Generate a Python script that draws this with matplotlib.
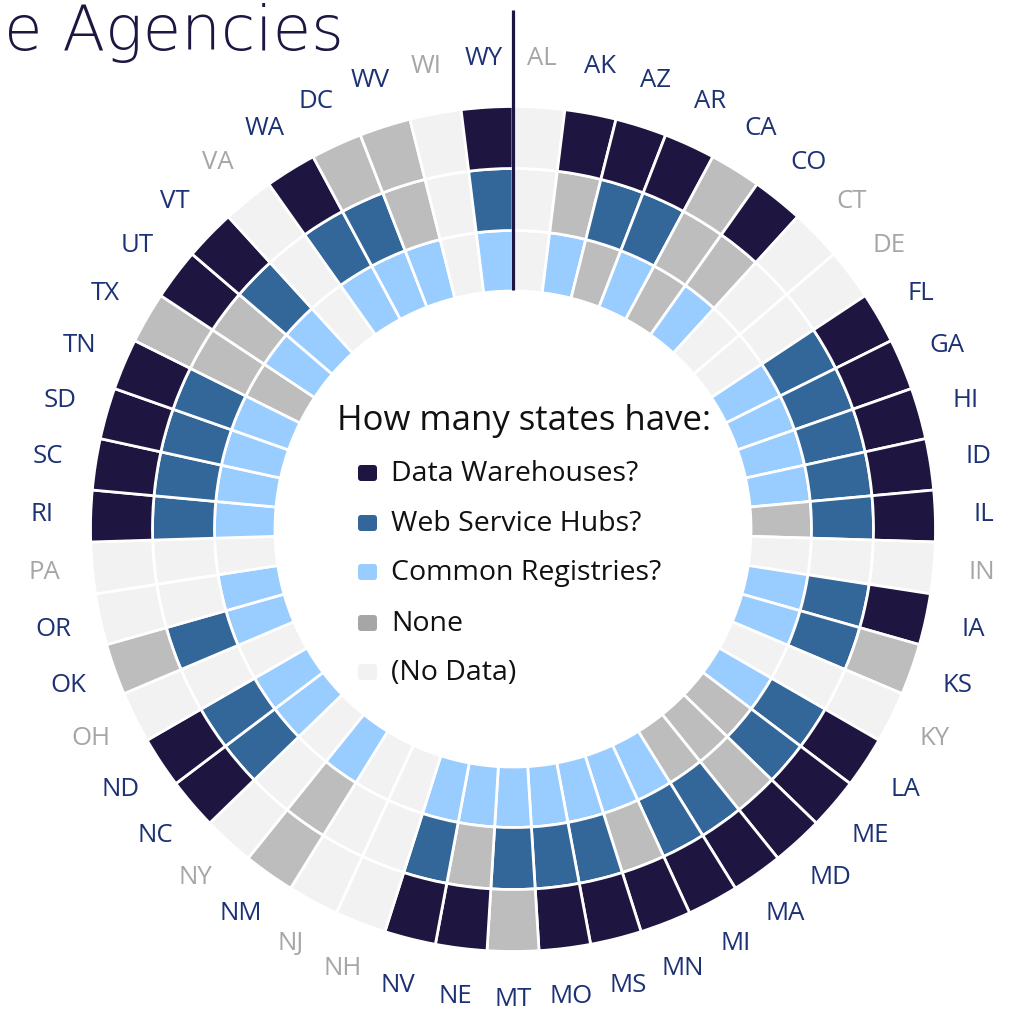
import numpy as np
import matplotlib
matplotlib.use("Agg")
import matplotlib.pyplot as plt
from matplotlib.patches import FancyBboxPatch

plt.rcParams['font.family'] = ['Open Sans', 'DejaVu Sans']

# states, clockwise from the top
states = ["AL", "AK", "AZ", "AR", "CA", "CO", "CT", "DE", "FL", "GA", "HI", "ID", "IL",
          "IN", "IA", "KS", "KY", "LA", "ME", "MD", "MA", "MI", "MN", "MS", "MO", "MT",
          "NE", "NV", "NH", "NJ", "NM", "NY", "NC", "ND", "OH", "OK", "OR", "PA", "RI",
          "SC", "SD", "TN", "TX", "UT", "VT", "VA", "WA", "DC", "WV", "WI", "WY"]

# Y = has it, N = none, X = no data
warehouses = ("X Y Y Y N Y X X Y Y Y Y Y X Y N X Y Y Y Y Y Y Y Y N "
              "Y Y X X N X Y Y X N X X Y Y Y Y N Y Y X Y N N X Y").split()
hubs = ("X N Y Y N N X X Y Y Y Y Y X Y Y X Y Y N Y Y N Y Y Y "
        "N Y X X N X Y Y X Y X X Y Y Y Y N N Y X Y Y N X Y").split()
registries = ("X Y N Y N Y X X Y Y Y Y N X Y Y X Y N N N Y Y Y Y Y "
              "Y Y X X Y X Y Y X Y Y X Y Y Y Y N Y Y X Y Y Y X Y").split()

legend_labels = ["Data Warehouses?", "Web Service Hubs?", "Common Registries?", "None", "(No Data)"]

navy = "#1E1541"
steel = "#336699"
light = "#99CCFF"
gray = "#BDBDBD"
nodata = "#F2F2F2"
legend_colors = [navy, steel, light, "#A6A6A6", nodata]

fig = plt.figure(figsize=(10.19, 10.14), dpi=100)

# polar axes: 1 data unit = 1 pixel, center at (513, 529)
ax = fig.add_axes([33 / 1019, 5 / 1014, 960 / 1019, 960 / 1014], projection='polar')
ax.set_theta_zero_location('N')
ax.set_theta_direction(-1)
ax.set_ylim(0, 480)
ax.axis('off')

n = len(states)
width = 2 * np.pi / n
theta = (np.arange(n) + 0.5) * width

rings = [
    (registries, light, 238, 298.5),
    (hubs, steel, 298.5, 360.5),
    (warehouses, navy, 360.5, 422.5),
]
for values, yes_color, r0, r1 in rings:
    cols = [yes_color if v == "Y" else gray if v == "N" else nodata for v in values]
    ax.bar(theta, r1 - r0, width=width, bottom=r0, color=cols,
           edgecolor='white', linewidth=2)

# state labels
for t, s, a, b, c in zip(theta, states, warehouses, hubs, registries):
    has_data = not (a == "X" and b == "X" and c == "X")
    ax.text(t, 471, s, ha='center', va='center', fontsize=18.5,
            color="#1C3275" if has_data else "#A6A6A6")

# divider at the top
ax.plot([0, 0], [239, 519], color=navy, lw=2.3, clip_on=False, solid_capstyle='butt')

# overlay in pixel coordinates for legend and title
ov = fig.add_axes([0, 0, 1, 1])
ov.set_xlim(0, 1019)
ov.set_ylim(1014, 0)
ov.axis('off')

ov.text(337, 430, "How many states have:", fontsize=25, color="#111111", va='baseline')
ys = [473, 523, 572, 623, 672]
for y, lab, col in zip(ys, legend_labels, legend_colors):
    ov.add_patch(FancyBboxPatch((358, y - 8), 19, 16,
                                boxstyle="round,pad=0,rounding_size=3",
                                facecolor=col, edgecolor='none'))
    ov.text(391, y + 8, lab, fontsize=20.5, color="#111111", va='baseline')

ov.text(4, 50, "e Agencies", fontsize=45, color=navy, va='baseline',
        family=['DejaVu Sans'], fontweight='light')

fig.savefig("out.png", dpi=100)
